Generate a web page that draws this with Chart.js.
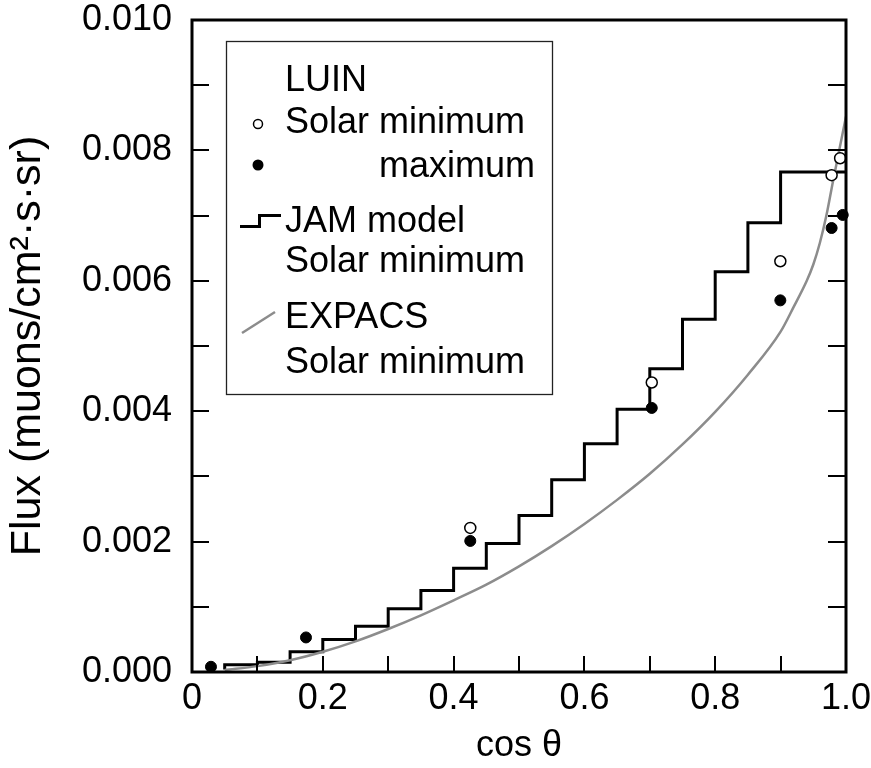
<!DOCTYPE html>
<html>
<head>
<meta charset="utf-8">
<script src="https://cdn.jsdelivr.net/npm/chart.js@4/dist/chart.umd.min.js"></script>
<style>
  html, body { margin: 0; padding: 0; background: #fff; }
  #wrap { width: 871px; height: 768px; }
</style>
</head>
<body>
<div id="wrap"><canvas id="c" width="871" height="768"></canvas></div>
<script>
// ---- data ----
const luinMinX = [0.4255, 0.703, 0.8996, 0.978, 0.991];
const luinMinY = [0.00221, 0.00444, 0.00630, 0.00762, 0.00788];
const luinMaxX = [0.029, 0.1743, 0.4255, 0.703, 0.8996, 0.978, 0.995];
const luinMaxY = [0.00008, 0.00053, 0.00201, 0.00405, 0.00570, 0.00681, 0.00701];
const jamX = [0.05, 0.10, 0.15, 0.20, 0.25, 0.30, 0.35, 0.40, 0.45, 0.50, 0.55, 0.60, 0.65, 0.70, 0.75, 0.80, 0.85, 0.90, 0.95, 1.00];
const jamY = [0.00004, 0.00011, 0.00015, 0.00031, 0.00050, 0.00070, 0.00097, 0.00125, 0.00159, 0.00197, 0.00240, 0.00295, 0.00350, 0.00403, 0.00465, 0.00541, 0.00614, 0.00689, 0.00767, 0.00767];
const expacsX = [0.05, 0.10, 0.15, 0.20, 0.25, 0.30, 0.35, 0.40, 0.45, 0.50, 0.55, 0.60, 0.65, 0.70, 0.75, 0.80, 0.85, 0.90, 0.92, 0.94, 0.95, 0.96, 0.97, 0.98, 0.99, 1.00];
const expacsY = [0.00003, 0.00009, 0.00018, 0.00031, 0.00047, 0.00066, 0.00087, 0.00110, 0.00134, 0.00162, 0.00193, 0.00227, 0.00264, 0.00304, 0.00349, 0.00399, 0.00456, 0.00522, 0.00560, 0.00600, 0.00625, 0.00658, 0.00700, 0.00752, 0.00802, 0.00852];
const xTickLabels = ['0', '0.2', '0.4', '0.6', '0.8', '1.0'];
const yTickLabels = ['0.000', '0.002', '0.004', '0.006', '0.008', '0.010'];
const xTitle = 'cos \u03B8';
const yTitle = 'Flux (muons/cm\u00B2\u00B7s\u00B7sr)';
const legendLines = ['LUIN', 'Solar minimum', 'maximum', 'JAM model', 'Solar minimum', 'EXPACS', 'Solar minimum'];

const pts = (xs, ys) => xs.map((x, i) => ({ x: x, y: ys[i] }));
const FONT = "'Liberation Sans', Arial, Helvetica, sans-serif";

const framePlugin = {
  id: 'frame',
  afterDraw(chart) {
    const { ctx, chartArea: a, scales } = chart;
    ctx.save();
    ctx.strokeStyle = '#000';
    // inward ticks
    ctx.lineWidth = 2;
    ctx.beginPath();
    for (let i = 1; i < 10; i++) {
      const y = Math.round(scales.y.getPixelForValue(i * 0.001));
      ctx.moveTo(a.left, y); ctx.lineTo(a.left + 17, y);
      ctx.moveTo(a.right, y); ctx.lineTo(a.right - 18, y);
    }
    for (let i = 1; i < 10; i++) {
      const x = Math.round(scales.x.getPixelForValue(i * 0.1));
      ctx.moveTo(x, a.bottom); ctx.lineTo(x, a.bottom - 16);
    }
    ctx.stroke();
    // frame
    ctx.lineWidth = 3;
    ctx.strokeRect(a.left, a.top, a.right - a.left, a.bottom - a.top);

    // legend box
    ctx.lineWidth = 1.3;
    ctx.strokeStyle = '#222';
    ctx.strokeRect(226.5, 41.5, 326, 353);
    ctx.fillStyle = '#000';
    ctx.font = '36px ' + FONT;
    ctx.textBaseline = 'alphabetic';
    ctx.textAlign = 'left';
    ctx.fillText(legendLines[0], 285, 91);
    ctx.fillText(legendLines[1], 285, 133);
    ctx.fillText(legendLines[2], 379, 177);
    ctx.fillText(legendLines[3], 285, 232);
    ctx.fillText(legendLines[4], 285, 272);
    ctx.fillText(legendLines[5], 285, 328);
    ctx.fillText(legendLines[6], 285, 373);
    // symbols
    ctx.lineWidth = 1.5;
    ctx.strokeStyle = '#000';
    ctx.beginPath(); ctx.arc(258, 124, 4.5, 0, Math.PI * 2); ctx.stroke();
    ctx.beginPath(); ctx.arc(258, 165, 5.5, 0, Math.PI * 2); ctx.fill();
    ctx.lineWidth = 3;
    ctx.beginPath();
    ctx.moveTo(240, 226.5); ctx.lineTo(259.5, 226.5); ctx.lineTo(259.5, 215.5); ctx.lineTo(281, 215.5);
    ctx.stroke();
    ctx.strokeStyle = '#8c8c8c';
    ctx.lineWidth = 2.5;
    ctx.beginPath(); ctx.moveTo(242, 333); ctx.lineTo(275, 312); ctx.stroke();
    ctx.restore();
  }
};

new Chart(document.getElementById('c'), {
  type: 'scatter',
  data: {
    datasets: [
      {
        label: 'LUIN Solar minimum', data: pts(luinMinX, luinMinY),
        pointStyle: 'circle', pointRadius: 5.5, pointBackgroundColor: '#fff',
        pointBorderColor: '#000', pointBorderWidth: 1.5, showLine: false, order: 0, clip: false
      },
      {
        label: 'LUIN Solar maximum', data: pts(luinMaxX, luinMaxY),
        pointStyle: 'circle', pointRadius: 5.5, pointBackgroundColor: '#000',
        pointBorderColor: '#000', pointBorderWidth: 1, showLine: false, order: 1, clip: false
      },
      {
        label: 'EXPACS Solar minimum', data: pts(expacsX, expacsY),
        showLine: true, borderColor: '#8c8c8c', borderWidth: 2.5, pointRadius: 0,
        cubicInterpolationMode: 'monotone', fill: false, order: 2
      },
      {
        label: 'JAM model Solar minimum', data: pts(jamX, jamY),
        showLine: true, stepped: 'after', borderColor: '#000', borderWidth: 3,
        pointRadius: 0, fill: false, order: 3
      }
    ]
  },
  options: {
    responsive: false,
    animation: false,
    events: [],
    layout: { padding: { top: 20, right: 25, left: 0, bottom: 0 } },
    plugins: { legend: { display: false }, tooltip: { enabled: false } },
    scales: {
      x: {
        type: 'linear', min: 0, max: 1,
        grid: { display: false, drawTicks: false },
        border: { display: false },
        ticks: {
          stepSize: 0.2, padding: 5, color: '#000', font: { family: FONT, size: 36 },
          maxRotation: 0,
          callback: (v) => { const i = Math.round(v / 0.2); return xTickLabels[i]; }
        },
        title: { display: true, text: xTitle, color: '#000', font: { family: FONT, size: 36 }, padding: { top: 0, bottom: 0 } },
        afterFit: (s) => { s.height = 96; s.paddingLeft = 0; s.paddingRight = 0; }
      },
      y: {
        type: 'linear', min: 0, max: 0.01,
        grid: { display: false, drawTicks: false },
        border: { display: false },
        ticks: {
          stepSize: 0.002, padding: 20, color: '#000', font: { family: FONT, size: 36 },
          callback: (v) => { const i = Math.round(v / 0.002); return yTickLabels[i]; }
        },
        title: { display: true, text: yTitle, color: '#000', font: { family: FONT, size: 43 }, padding: { top: 2, bottom: 0 } },
        afterFit: (s) => { s.width = 192; s.paddingTop = 0; s.paddingBottom = 0; }
      }
    }
  },
  plugins: [framePlugin]
});
</script>
</body>
</html>
